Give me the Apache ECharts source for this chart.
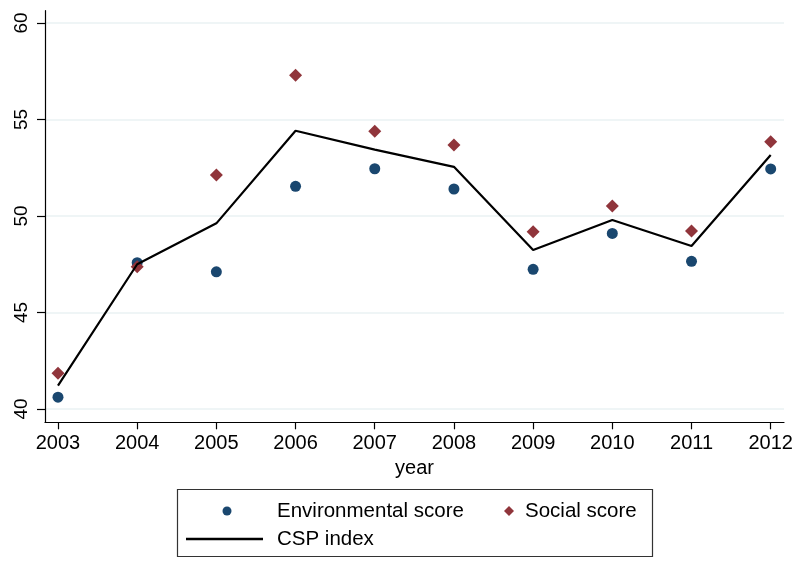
<!DOCTYPE html>
<html>
<head>
<meta charset="utf-8">
<script src="https://cdn.jsdelivr.net/npm/echarts@6/dist/echarts.min.js"></script>
<style>
html,body{margin:0;padding:0;background:#fff;}
#chart{width:798px;height:561px;}
</style>
</head>
<body>
<div id="chart"></div>
<script>
var years = [2003, 2004, 2005, 2006, 2007, 2008, 2009, 2010, 2011, 2012];
var environmentalScore = [40.61, 47.58, 47.11, 51.54, 52.45, 51.40, 47.24, 49.10, 47.65, 52.44];
var socialScore = [41.85, 47.37, 52.12, 57.29, 54.39, 53.68, 49.19, 50.52, 49.22, 53.85];
var cspIndex = [41.21, 47.50, 49.62, 54.42, 53.44, 52.55, 48.24, 49.79, 48.45, 53.16];
var yTicks = [40, 45, 50, 55, 60];
var xTicks = years;

function pairs(vals) {
  return years.map(function (y, i) { return [y, vals[i]]; });
}

var FONT = 'Liberation Sans, Arial, Helvetica, sans-serif';
var chart = echarts.init(document.getElementById('chart'), null, {renderer: 'canvas'});
chart.setOption({
  backgroundColor: '#ffffff',
  animation: false,
  textStyle: {fontFamily: FONT, color: '#000'},
  grid: {left: 45, right: 14, top: 10.7, bottom: 138.7, containLabel: false},
  xAxis: {
    type: 'value',
    min: 2002.836,
    max: 2012.168,
    name: 'year',
    nameLocation: 'middle',
    nameGap: 36,
    nameTextStyle: {fontSize: 20, color: '#000', fontFamily: FONT},
    axisLine: {show: true, onZero: false, lineStyle: {color: '#000', width: 1.2}},
    axisTick: {show: true, length: 7, inside: false, customValues: xTicks, lineStyle: {color: '#000', width: 1.2}},
    axisLabel: {show: true, customValues: xTicks, fontSize: 20, margin: 11, color: '#000', fontFamily: FONT,
      formatter: function (v) { return String(v); }},
    splitLine: {show: false}
  },
  yAxis: {
    type: 'value',
    min: 39.31,
    max: 60.64,
    axisLine: {show: true, onZero: false, lineStyle: {color: '#000', width: 1.2}},
    axisTick: {show: true, length: 8, customValues: yTicks, lineStyle: {color: '#000', width: 1.2}},
    axisLabel: {show: true, customValues: yTicks, rotate: 90, fontSize: 19, margin: 14, color: '#000', fontFamily: FONT,
      formatter: function (v) { return String(v); }},
    splitLine: {show: true, lineStyle: {color: '#eaf2f3', width: 1.5}}
  },
  legend: [
    {data: [{name: 'Environmental score', icon: 'circle'}], left: 222.5, top: 500.5, padding: 0, itemWidth: 9, itemHeight: 9,
      itemStyle: {color: '#1a476f', opacity: 1, borderWidth: 0},
      textStyle: {fontSize: 20.5, color: '#000', fontFamily: FONT, padding: [0, 0, 0, 40.5]}},
    {data: [{name: 'Social score', icon: 'diamond'}], left: 504, top: 500.5, padding: 0, itemWidth: 10, itemHeight: 10,
      itemStyle: {color: '#90353b', opacity: 1, borderWidth: 0},
      textStyle: {fontSize: 20.5, color: '#000', fontFamily: FONT, padding: [0, 0, 0, 6]}},
    {data: [{name: 'CSP index', icon: 'rect'}], left: 186, top: 528.5, padding: 0, itemWidth: 77, itemHeight: 2.4,
      itemStyle: {color: '#000', opacity: 1, borderWidth: 0},
      lineStyle: {width: 0},
      textStyle: {fontSize: 20.5, color: '#000', fontFamily: FONT, padding: [0, 0, 0, 9]}}
  ],
  graphic: [{
    type: 'rect',
    shape: {x: 177.5, y: 489.5, width: 475, height: 67},
    style: {fill: 'none', stroke: '#333', lineWidth: 1.2},
    silent: true
  }],
  series: [
    {
      name: 'Environmental score',
      type: 'scatter',
      data: pairs(environmentalScore),
      symbol: 'circle',
      symbolSize: 11,
      itemStyle: {color: '#1a476f', opacity: 1},
      z: 3
    },
    {
      name: 'Social score',
      type: 'scatter',
      data: pairs(socialScore),
      symbol: 'diamond',
      symbolSize: 13,
      itemStyle: {color: '#90353b', opacity: 1},
      z: 3
    },
    {
      name: 'CSP index',
      type: 'line',
      data: pairs(cspIndex),
      symbol: 'none',
      lineStyle: {color: '#000', width: 2.2},
      itemStyle: {color: '#000'},
      z: 4
    }
  ]
});
</script>
</body>
</html>
